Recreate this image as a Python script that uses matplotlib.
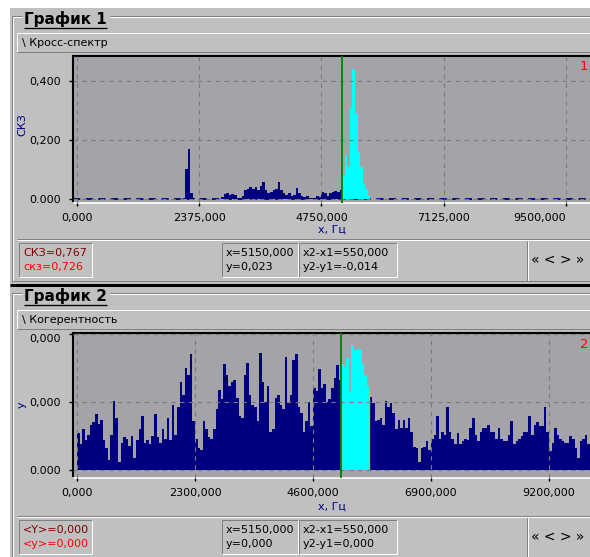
import numpy as np
import matplotlib.pyplot as plt
from matplotlib.patches import Rectangle
from matplotlib.lines import Line2D

# данные (шаг 50 Гц)
bin_step = 50
cursor_x1 = 5150
cursor_x2 = 5700

# График 1: кросс-спектр, ненулевая часть от 2000 Гц
spec_start = 2000
spec_vals = [
    0.0, 0.005, 0.10, 0.17, 0.02, 0.005,
    0.0, 0.0, 0.0, 0.0, 0.0, 0.0, 0.0, 0.0, 0.0, 0.0,
    0.008, 0.018, 0.02, 0.015, 0.018, 0.012, 0.005, 0.004, 0.01, 0.03, 0.035,
    0.04, 0.035, 0.04, 0.03, 0.045, 0.057, 0.03, 0.02, 0.025, 0.03,
    0.035, 0.058, 0.03, 0.02, 0.015, 0.02, 0.01, 0.015, 0.037, 0.02,
    0.01, 0.008, 0.01, 0.005, 0.005, 0.005, 0.01, 0.008, 0.025, 0.02,
    0.01, 0.02, 0.025, 0.028, 0.025, 0.03,
    0.08, 0.15, 0.11, 0.31, 0.44, 0.29, 0.16, 0.11, 0.05, 0.035, 0.01,
]

# График 2: когерентность, 0..10000 Гц
coh_start = 0
coh_vals = [
    0.27, 0.19, 0.30, 0.22, 0.26, 0.33, 0.35, 0.41, 0.34, 0.37,
    0.22, 0.16, 0.07, 0.26, 0.51, 0.38, 0.06, 0.20, 0.24, 0.23,
    0.18, 0.25, 0.09, 0.22, 0.30, 0.40, 0.20, 0.22, 0.19, 0.25,
    0.41, 0.24, 0.20, 0.30, 0.23, 0.38, 0.22, 0.48, 0.26, 0.46,
    0.65, 0.55, 0.75, 0.70, 0.85, 0.36, 0.23, 0.16, 0.15, 0.36,
    0.30, 0.24, 0.23, 0.30, 0.45, 0.59, 0.52, 0.78, 0.70, 0.62,
    0.65, 0.66, 0.53, 0.40, 0.38, 0.70, 0.79, 0.55, 0.48, 0.46,
    0.36, 0.86, 0.65, 0.50, 0.62, 0.28, 0.30, 0.53, 0.55, 0.48,
    0.45, 0.83, 0.50, 0.55, 0.81, 0.85, 0.46, 0.42, 0.28, 0.36,
    0.50, 0.32, 0.60, 0.58, 0.74, 0.60, 0.63, 0.50, 0.52, 0.60,
    0.68, 0.77, 0.66, 0.78, 0.76, 0.82, 0.57, 0.92, 0.88, 0.89,
    0.88, 0.78, 0.70, 0.62, 0.54, 0.49, 0.36, 0.37, 0.38, 0.33,
    0.51, 0.46, 0.49, 0.42, 0.30, 0.37, 0.31, 0.37, 0.31, 0.38,
    0.28, 0.17, 0.16, 0.06, 0.16, 0.17, 0.21, 0.15, 0.23, 0.26,
    0.40, 0.23, 0.28, 0.26, 0.46, 0.28, 0.23, 0.19, 0.27, 0.19,
    0.21, 0.23, 0.22, 0.31, 0.38, 0.26, 0.21, 0.28, 0.31, 0.31,
    0.33, 0.28, 0.28, 0.23, 0.31, 0.23, 0.21, 0.21, 0.26, 0.36,
    0.19, 0.21, 0.23, 0.25, 0.28, 0.28, 0.40, 0.26, 0.33, 0.35,
    0.32, 0.32, 0.46, 0.28, 0.14, 0.20, 0.31, 0.26, 0.23, 0.21,
    0.20, 0.20, 0.25, 0.23, 0.16, 0.09, 0.21, 0.23, 0.26, 0.19,
]

x1_ticks = [0, 2375, 4750, 7125, 9500]
x1_labels = ['0,000', '2375,000', '4750,000', '7125,000', '9500,000']
y1_ticks = [0, 0.2, 0.4]
y1_labels = ['0.000', '0,200', '0,400']
x2_ticks = [0, 2300, 4600, 6900, 9200]
x2_labels = ['0,000', '2300,000', '4600,000', '6900,000', '9200,000']
y2_ticks = [0, 0.5, 1.0]
y2_labels = ['0.000', '0,000', '0,000']

info1 = [('СКЗ=0,767', 'скз=0,726'), ('x=5150,000', 'y=0,023'),
         ('x2-x1=550,000', 'y2-y1=-0,014')]
info2 = [('<Y>=0,000', '<y>=0,000'), ('x=5150,000', 'y=0,000'),
         ('x2-x1=550,000', 'y2-y1=0,000')]

WIN = '#c0c0c0'
PLOT = '#a4a4a8'
DARK = '#808080'
NAVY = '#000080'
CYAN = '#00ffff'
GREEN = '#008000'

W, H = 590, 557
fig = plt.figure(figsize=(W / 100, H / 100), dpi=100, facecolor='white')


def fx(x):
    return x / W


def fy(y):
    return 1 - y / H


def rect(x, y, w, h, fc):
    fig.add_artist(Rectangle((fx(x), fy(y + h)), w / W, h / H, transform=fig.transFigure,
                             fc=fc, ec='none', lw=0, zorder=-3))


def line(xs, ys, color, lw=1.0):
    fig.add_artist(Line2D([fx(v) for v in xs], [fy(v) for v in ys], transform=fig.transFigure,
                          color=color, lw=lw * 0.72, solid_capstyle='butt', zorder=-2))


def text(x, y, s, size=8, color='black', **kw):
    return fig.text(fx(x), fy(y), s, fontsize=size, color=color, va='center', **kw)


def sunken(x, y, w, h):
    line([x, x + w], [y, y], DARK)
    line([x, x], [y, y + h], DARK)
    line([x, x + w], [y + h, y + h], 'white')
    line([x + w, x + w], [y, y + h], 'white')


def raised(x, y, w, h):
    line([x, x + w], [y, y], 'white')
    line([x, x], [y, y + h], 'white')
    line([x, x + w], [y + h, y + h], DARK)


# фон окна
rect(10, 8, 580, 549, WIN)


def frame(dy, title, subtitle, num, info, bottom_line=True):
    # рамка группы
    line([12, 12], [16 + dy, 282 + dy], DARK)
    line([13, 13], [17 + dy, 282 + dy], 'white')
    t = text(24, 19 + dy, title, size=11, weight='bold')
    fig.canvas.draw()
    bb = t.get_window_extent(fig.canvas.get_renderer())
    x_end = bb.x1
    line([12, 22], [16 + dy] * 2, DARK)
    line([13, 22], [17 + dy] * 2, 'white')
    line([x_end + 3, 590], [16 + dy] * 2, DARK)
    line([x_end + 3, 590], [17 + dy] * 2, 'white')
    line([bb.x0, x_end], [27.5 + dy] * 2, 'black', lw=1.3)
    # заголовок графика
    raised(17, 33 + dy, 573, 19)
    text(22, 43 + dy, subtitle, size=8)
    # номер графика
    text(584, 67 + dy, num, size=9.5, color='red', ha='center')
    # нижняя панель
    line([17, 590], [240 + dy] * 2, 'white')
    line([17, 590], [239 + dy] * 2, DARK)
    boxes = [(19, 73), (222, 76), (299, 98)]
    for (bx, bw), (l1, l2), k in zip(boxes, info, range(3)):
        sunken(bx, 243 + dy, bw, 34)
        c1, c2 = ('#800000', 'red') if k == 0 else ('black', 'black')
        text(bx + 4, 253 + dy, l1, color=c1)
        text(bx + 4, 267 + dy, l2, color=c2)
    line([527, 527], [241 + dy, 281 + dy], DARK)
    line([528, 528], [241 + dy, 281 + dy], 'white')
    text(531, 260 + dy, '« < > »', size=10)
    if bottom_line:
        line([12, 590], [281 + dy] * 2, DARK)


def make_axes(top, bottom, xlim, ylim, xt, xl, yt, yl):
    ax = fig.add_axes([fx(73), fy(bottom), (590 - 73) / W, (bottom - top) / H])
    ax.set_facecolor(PLOT)
    ax.set_xlim(*xlim)
    ax.set_ylim(*ylim)
    ax.set_xticks(xt, xl)
    ax.set_yticks(yt, yl)
    ax.tick_params(axis='both', labelsize=8, colors='black', width=1)
    ax.tick_params(axis='y', length=3, pad=6)
    ax.tick_params(axis='x', length=2.5, pad=5)
    for s in ('left', 'top'):
        ax.spines[s].set_color('black')
        ax.spines[s].set_linewidth(1.5)
    ax.spines['bottom'].set_color('white')
    ax.spines['bottom'].set_linewidth(1.2)
    ax.spines['right'].set_visible(False)
    ax.grid(True, color='#7a7a7a', linestyle=(0, (4, 4)), linewidth=0.8)
    ax.set_axisbelow(False)
    return ax


def draw_series(ax, start, vals):
    freq = start + bin_step * np.arange(len(vals))
    v = np.asarray(vals)
    xe = np.append(freq, freq[-1] + bin_step)
    ye = np.append(v, v[-1])
    ax.fill_between(xe, ye, step='post', color=NAVY, lw=0, zorder=1)
    sel = (freq >= cursor_x1) & (freq < cursor_x2)
    idx = np.where(sel)[0]
    xs = np.append(freq[idx], freq[idx[-1]] + bin_step)
    ys = np.append(v[idx], v[idx[-1]])
    ax.fill_between(xs, ys, step='post', color=CYAN, lw=0, zorder=1.2)
    ax.axvline(cursor_x1, color=GREEN, lw=1.3, zorder=4)


# ---- График 1 ----
frame(0, 'График 1', '\\ Кросс-спектр', '1', info1)
ax1 = make_axes(56, 203, (-78, 9967), (-0.0136, 0.4847), x1_ticks, x1_labels, y1_ticks, y1_labels)
ax1.get_xticklabels()[-1].set_ha('right')
draw_series(ax1, spec_start, spec_vals)
ax1.axhline(0, color=NAVY, linestyle=(0, (4, 3)), lw=1.3, zorder=1.1)
text(332, 230, 'x, Гц', color=NAVY, ha='center')
text(22, 125, 'СКЗ', color=NAVY, ha='center', rotation=90)

# ---- График 2 ----
line([10, 590], [285, 285], 'black', lw=3)
frame(277, 'График 2', '\\ Когерентность', '2', info2, bottom_line=False)
ax2 = make_axes(333, 478, (-78, 10000), (-0.0588, 1.0074), x2_ticks, x2_labels, y2_ticks, y2_labels)
ax2.get_yticklabels()[-1].set_va('top')
draw_series(ax2, coh_start, coh_vals)
ax2.vlines([cursor_x1, cursor_x2], 0, [0.49, 0.59], color='#c8c800', lw=1, zorder=1.3)
text(332, 507, 'x, Гц', color=NAVY, ha='center')
text(22, 405, 'y', color=NAVY, ha='center', rotation=90)

fig.savefig('out.png', dpi=100, facecolor='white')
